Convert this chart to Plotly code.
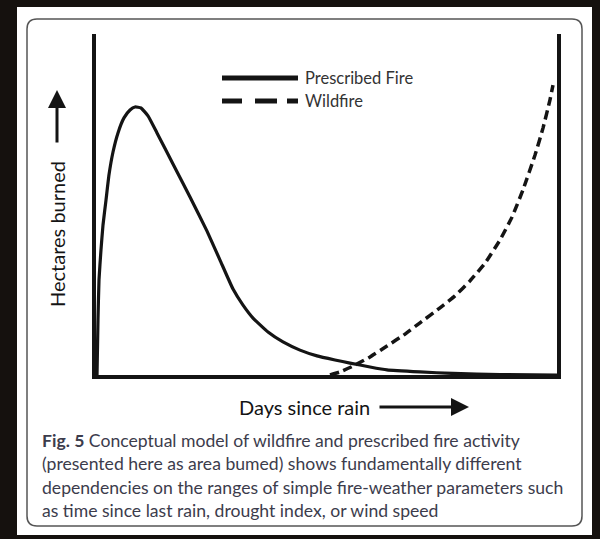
import plotly.graph_objects as go

# Conceptual curves (days since rain 0-100, relative hectares burned 0-100)
prescribed_x = [0.22, 0.43, 0.65, 1.08, 1.52, 2.17, 2.82, 3.69, 4.77, 6.07, 7.38, 8.46, 9.76, 11.28,
                13.23, 16.7, 20.39, 24.08, 26.9, 29.72, 31.89, 34.06, 37.31, 40.56, 44.25, 47.94,
                51.84, 55.1, 59.44, 63.12, 70.28, 77.44, 87.64, 100]
prescribed_y = [0, 16.1, 27.9, 36.7, 44.0, 51.3, 58.7, 65.4, 71.0, 75.4, 77.7, 78.6, 78.3, 76.0,
                71.0, 61.9, 52.2, 42.2, 33.7, 25.2, 20.5, 16.7, 12.6, 9.7, 7.3, 5.6,
                4.4, 3.5, 2.35, 1.5, 0.9, 0.45, 0.15, 0]

wildfire_x = [50.76, 52.93, 55.75, 59.44, 63.12, 67.03, 70.28, 74.62, 77.87, 81.13, 84.38, 87.64,
              90.24, 92.62, 95.23, 96.96, 98.48, 99.13]
wildfire_y = [0, 0.9, 2.6, 5.3, 8.5, 12.0, 15.3, 19.7, 23.2, 27.6, 32.8, 39.6,
              46.3, 54.3, 64.5, 72.4, 80.7, 85.0]

series_names = ["Prescribed Fire", "Wildfire"]
x_label = "Days since rain"
y_label = "Hectares burned"
caption_lines = [
    "<b>Fig. 5</b> Conceptual model of wildfire and prescribed fire activity",
    "(presented here as area bumed) shows fundamentally different",
    "dependencies on the ranges of simple fire-weather parameters such",
    "as time since last rain, drought index, or wind speed",
]

W, H = 600, 539
def px(x): return x / W
def py(y): return 1 - y / H

FONT = "Lato"
INK = "#141414"

fig = go.Figure()
fig.add_trace(go.Scatter(x=prescribed_x, y=prescribed_y, mode="lines", name=series_names[0],
                         line=dict(color=INK, width=3.2, shape="spline", smoothing=0.4)))
fig.add_trace(go.Scatter(x=wildfire_x, y=wildfire_y, mode="lines", name=series_names[1],
                         line=dict(color=INK, width=3.5, dash="9px,5px", shape="spline", smoothing=0.4)))

shapes = []
# white page area
shapes.append(dict(type="rect", xref="paper", yref="paper", x0=px(17), x1=px(592), y0=py(535), y1=py(7),
                   fillcolor="white", line=dict(width=0), layer="below"))
# rounded caption box border
x0, x1, y0, y1, r = 27, 582, 19, 526, 10
path = (f"M {px(x0+r)},{py(y0)} L {px(x1-r)},{py(y0)} Q {px(x1)},{py(y0)} {px(x1)},{py(y0+r)} "
        f"L {px(x1)},{py(y1-r)} Q {px(x1)},{py(y1)} {px(x1-r)},{py(y1)} "
        f"L {px(x0+r)},{py(y1)} Q {px(x0)},{py(y1)} {px(x0)},{py(y1-r)} "
        f"L {px(x0)},{py(y0+r)} Q {px(x0)},{py(y0)} {px(x0+r)},{py(y0)} Z")
shapes.append(dict(type="path", xref="paper", yref="paper", path=path,
                   line=dict(color="#555555", width=1.5), layer="below"))
# legend samples
shapes.append(dict(type="line", xref="paper", yref="paper", x0=px(222), x1=px(298), y0=py(78), y1=py(78),
                   line=dict(color=INK, width=5)))
for a, b in [(222, 242), (255, 277), (287, 298)]:
    shapes.append(dict(type="line", xref="paper", yref="paper", x0=px(a), x1=px(b), y0=py(101), y1=py(101),
                       line=dict(color=INK, width=5)))

annotations = []
annotations.append(dict(xref="paper", yref="paper", x=px(303), y=py(78), text=series_names[0],
                        showarrow=False, xanchor="left", yanchor="middle",
                        font=dict(family=FONT, size=16.5, color="#333333")))
annotations.append(dict(xref="paper", yref="paper", x=px(303), y=py(101), text=series_names[1],
                        showarrow=False, xanchor="left", yanchor="middle",
                        font=dict(family=FONT, size=16.5, color="#333333")))
# y label + arrow
annotations.append(dict(xref="paper", yref="paper", x=px(57), y=py(234), text=y_label, textangle=-90,
                        showarrow=False, xanchor="center", yanchor="middle",
                        font=dict(family=FONT, size=20, color=INK)))
annotations.append(dict(xref="paper", yref="paper", x=px(57), y=py(90), text="", showarrow=True,
                        ax=0, ay=54, arrowhead=2, arrowsize=1.2, arrowwidth=3, arrowcolor=INK))
# x label + arrow
annotations.append(dict(xref="paper", yref="paper", x=px(304), y=py(407), text=x_label,
                        showarrow=False, xanchor="center", yanchor="middle",
                        font=dict(family=FONT, size=20, color=INK)))
annotations.append(dict(xref="paper", yref="paper", x=px(469), y=py(407), text="", showarrow=True,
                        ax=-91, ay=0, arrowhead=2, arrowsize=1.2, arrowwidth=3, arrowcolor=INK))
# caption
for i, line in enumerate(caption_lines):
    annotations.append(dict(xref="paper", yref="paper", x=px(40), y=py(440 + 23.5 * i), text=line,
                            showarrow=False, xanchor="left", yanchor="middle",
                            font=dict(family=FONT, size=17.6, color="#3c3c4c")))

fig.update_layout(
    width=W, height=H,
    margin=dict(l=0, r=0, t=0, b=0),
    paper_bgcolor="#15110e",
    plot_bgcolor="rgba(0,0,0,0)",
    showlegend=False,
    shapes=shapes,
    annotations=annotations,
    xaxis=dict(domain=[96 / W, 557 / W], range=[0, 100], showline=True, linewidth=4, linecolor=INK,
               showgrid=False, zeroline=False, showticklabels=False, ticks=""),
    yaxis=dict(domain=[py(375), py(34)], range=[0, 100], showline=True, linewidth=4, linecolor=INK,
               mirror=True, showgrid=False, zeroline=False, showticklabels=False, ticks=""),
)

fig.write_html("out.html", config={"displayModeBar": False},
               post_script="document.body.style.margin='0';document.body.style.overflow='hidden';"
                           "document.body.style.background='#15110e';")
